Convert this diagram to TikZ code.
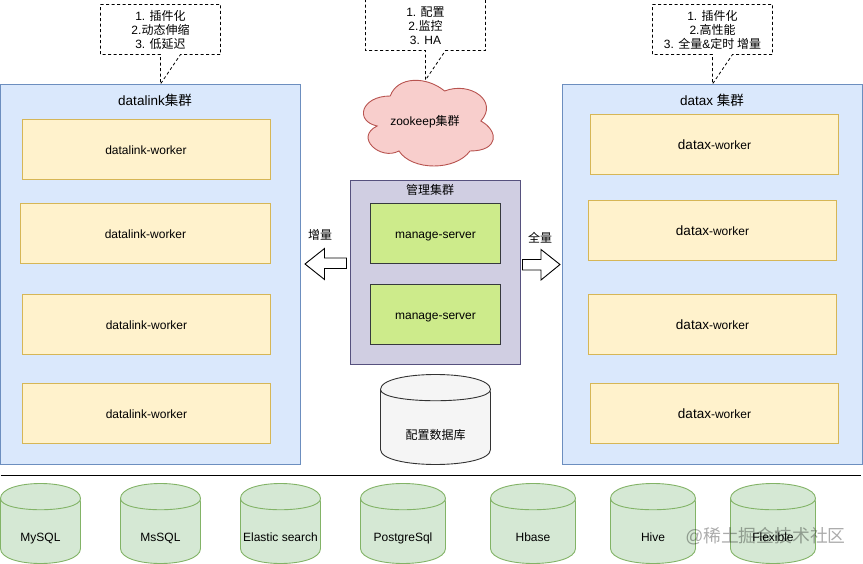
\documentclass[tikz,border=0pt]{standalone}
\usepackage{fontspec}
\setmainfont{Liberation Sans}
\newfontfamily\cjk{Noto Sans CJK SC}
\newcommand{\zh}[1]{{\cjk #1}}
\newcommand{\dbcyl}[8]{%
  \begin{scope}[shift={(#2,#3)}]
    \pgfmathsetmacro{\dyA}{-#6/3}\pgfmathsetmacro{\dyB}{2*#6}
    \pgfmathsetmacro{\hA}{#5-#6}\pgfmathsetmacro{\hB}{#5+#6/3}
    \pgfmathsetmacro{\txtY}{0.67*#5}\pgfmathsetmacro{\txtX}{#4/2}
    \draw[#7] (0,#6) .. controls (0,\dyA) and (#4,\dyA) .. (#4,#6) -- (#4,\hA)
      .. controls (#4,\hB) and (0,\hB) .. (0,\hA) -- cycle;
    \draw[#7] (0,#6) .. controls (0,\dyB) and (#4,\dyB) .. (#4,#6);
    \node[lbl,text height=9pt,text depth=0pt] (#1) at (\txtX,\txtY) {#8};
  \end{scope}}
\tikzset{
  lbl/.style={inner sep=0pt,outer sep=0pt,font=\fontsize{12}{14}\selectfont,align=center},
  ttl/.style={lbl,font=\fontsize{13.5}{16}\selectfont},
  boxbase/.style={draw,line width=0.9pt,inner sep=0pt,outer sep=0pt,text height=10.5pt,text depth=0pt,font=\fontsize{12}{14}\selectfont},
  cluster/.style={boxbase,fill=cblue,draw=sblue,minimum width=300pt,minimum height=380pt},
  worker/.style={boxbase,fill=cyellow,draw=syellow,minimum width=248pt,minimum height=60pt},
  manager/.style={boxbase,fill=cgreen,draw=sgreen,minimum width=130pt,minimum height=60pt},
  mgmt/.style={boxbase,fill=cpurple,draw=spurple,minimum width=170pt,minimum height=184pt},
  calloutline/.style={draw=black,fill=white,line width=0.8pt,dash pattern=on 3pt off 2.5pt},
  calltext/.style={lbl,font=\fontsize{12}{14}\selectfont},
  dbgreen/.style={draw=sdb,fill=cdb,line width=0.9pt},
  dbgray/.style={draw=black!80,fill=black!4,line width=0.9pt},
  blockarrow/.style={draw=black,fill=white,line width=0.9pt,line join=miter}
}
\definecolor{cblue}{HTML}{DAE8FC}\definecolor{sblue}{HTML}{6C8EBF}
\definecolor{cyellow}{HTML}{FFF2CC}\definecolor{syellow}{HTML}{D6B656}
\definecolor{cgreen}{HTML}{CDEB8B}\definecolor{sgreen}{HTML}{36393D}
\definecolor{cpurple}{HTML}{D0CEE2}\definecolor{spurple}{HTML}{56517E}
\definecolor{cdb}{HTML}{D5E8D4}\definecolor{sdb}{HTML}{82B366}
\definecolor{ccloud}{HTML}{F8CECC}\definecolor{scloud}{HTML}{B85450}
\begin{document}
\begin{tikzpicture}[x=1pt,y=-1pt]
\useasboundingbox (0,0) rectangle (863,564);
% clusters
\node[cluster] (dl) at (150.5,274.5) {};
\node[ttl] (dlt) at (155,100) {datalink\zh{集群}};
\node[worker] (w1) at (146,149.5) {datalink-worker};
\node[worker,minimum width=250pt] (w2) at (145.5,233.5) {datalink-worker};
\node[worker] (w3) at (146.5,324.5) {datalink-worker};
\node[worker] (w4) at (146.5,413.5) {datalink-worker};
\node[cluster] (dx) at (712.5,274.5) {};
\node[ttl] (dxt) at (712,100) {datax \zh{集群}};
\newcommand{\dxw}{{\fontsize{13.5}{14}\selectfont datax}-worker}
\node[worker] (x1) at (714.5,144.5) {\dxw};
\node[worker] (x2) at (712.5,230.5) {\dxw};
\node[worker] (x3) at (712.5,324.5) {\dxw};
\node[worker] (x4) at (714.5,413.5) {\dxw};
% callouts
\coordinate (c1nw) at (100.5,4.5);\coordinate (c1se) at (220.5,54.5);
\coordinate (c1tip) at (160.5,84);
\draw[calloutline] (c1nw) -| (c1se) -- (180.5,54.5) -- (c1tip) -- (160.5,54.5) -| (c1nw) -- cycle;
\node[calltext] (c1) at (160.5,29.5) {1. \zh{插件化}\\2.\zh{动态伸缩}\\3. \zh{低延迟}};
\coordinate (c3nw) at (652.5,4.5);\coordinate (c3se) at (772.5,54.5);
\coordinate (c3tip) at (712.5,84);
\draw[calloutline] (c3nw) -| (c3se) -- (732.5,54.5) -- (c3tip) -- (712.5,54.5) -| (c3nw) -- cycle;
\node[calltext] (c3) at (712.5,29.5) {1. \zh{插件化}\\2.\zh{高性能}\\3. \zh{全量}\&\zh{定时 增量}};
\coordinate (c2nw) at (365.5,-1);\coordinate (c2se) at (485.5,50.5);
\coordinate (c2tip) at (425.5,80);
\draw[calloutline] (c2nw) -| (c2se) -- (445.5,50.5) -- (c2tip) -- (425.5,50.5) -| (c2nw) -- cycle;
\node[calltext] (c2) at (425.5,25.5) {1. \zh{配置}\\2.\zh{监控}\\3. HA};
% cloud
\begin{scope}[shift={(354,71)},x=145pt,y=-100pt]
\draw[fill=ccloud,draw=scloud,line width=0.9pt]
 (.25,.25) .. controls (.05,.25) and (0,.5) .. (.16,.55)
 .. controls (0,.66) and (.18,.9) .. (.31,.8)
 .. controls (.4,1) and (.7,1) .. (.8,.8)
 .. controls (1,.8) and (1,.6) .. (.875,.5)
 .. controls (1,.3) and (.8,.1) .. (.625,.2)
 .. controls (.5,.05) and (.3,.05) .. (.25,.25) -- cycle;
\end{scope}
\node[lbl] (zk) at (425,122) {zookeep\zh{集群}};
% management
\node[mgmt] (mg) at (435.5,272) {};
\node[lbl] (mgt) at (430,190) {\zh{管理集群}};
\node[manager] (m1) at (435.5,233.5) {manage-server};
\node[manager] (m2) at (435.5,314.5) {manage-server};
% block arrows
\draw[blockarrow] (346.5,258) -- (324.5,258) -- (324.5,248.5) -- (305,264) -- (324.5,279.5) -- (324.5,268.5) -- (346.5,268.5) -- cycle;
\node[lbl] (inc) at (320,235) {\zh{增量}};
\draw[blockarrow] (522.5,259.5) -- (541,259.5) -- (541,249.5) -- (560,264.5) -- (541,280) -- (541,270) -- (522.5,270) -- cycle;
\node[lbl] (full) at (540,238) {\zh{全量}};
% config DB
\dbcyl{cfg}{380.5}{374.5}{110}{90}{15}{dbgray}{\zh{配置数据库}}
% divider
\coordinate (divl) at (0.5,475);\coordinate (divr) at (860.5,475);
\draw[black,line width=1pt] (divl) -- (divr);
% databases
\dbcyl{d1}{0.5}{483.5}{80}{80}{15}{dbgreen}{MySQL}
\dbcyl{d2}{120.5}{483.5}{80}{80}{15}{dbgreen}{MsSQL}
\dbcyl{d3}{240.5}{483.5}{80}{80}{15}{dbgreen}{Elastic search}
\dbcyl{d4}{360.5}{483.5}{85}{80}{15}{dbgreen}{PostgreSql}
\dbcyl{d5}{490.5}{483.5}{85}{80}{15}{dbgreen}{Hbase}
\dbcyl{d6}{610.5}{483.5}{85}{80}{15}{dbgreen}{Hive}
\dbcyl{d7}{730.5}{483.5}{85}{80}{15}{dbgreen}{Flexible}
% watermark
\node[inner sep=0pt,text=black,opacity=0.33,font=\fontsize{17.8}{20}\selectfont] (wm) at (765.5,536) {@\zh{稀土掘金技术社区}};
\end{tikzpicture}
\end{document}
